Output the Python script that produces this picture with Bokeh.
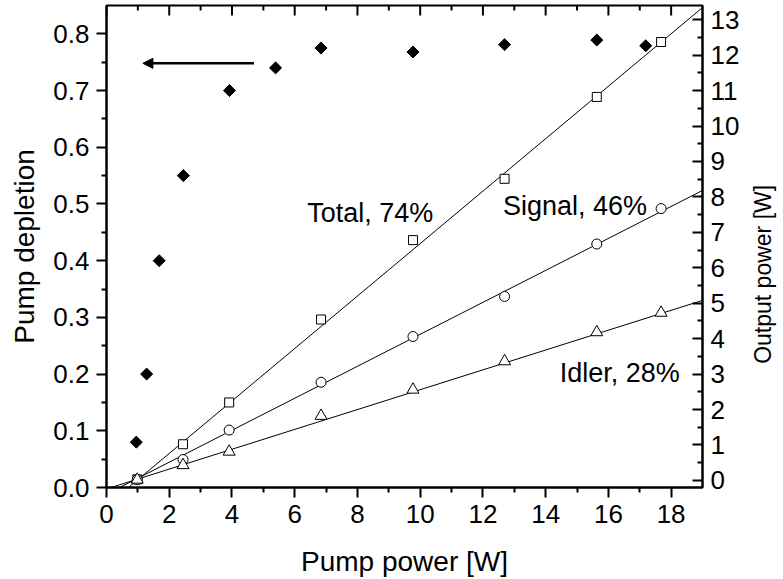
from bokeh.plotting import figure
from bokeh.models import (LinearAxis, Range1d, FixedTicker, PrintfTickFormatter,
                          Arrow, NormalHead, Label)
from bokeh.embed import file_html
from bokeh.resources import INLINE
import numpy as np

# Pump depletion (left axis) against pump power
pump_x = [0.95, 1.28, 1.68, 2.45, 3.92, 5.39, 6.84, 9.77, 12.69, 15.63, 17.19]
depletion = [0.08, 0.20, 0.40, 0.55, 0.70, 0.74, 0.775, 0.768, 0.781, 0.789, 0.779]

# Output powers (right axis) against pump power
power_x = [0.98, 2.44, 3.91, 6.84, 9.77, 12.69, 15.63, 17.68]
total = [0.03, 1.02, 2.20, 4.54, 6.78, 8.51, 10.82, 12.37]
signal = [0.02, 0.59, 1.42, 2.77, 4.06, 5.19, 6.67, 7.67]
idler = [0.02, 0.43, 0.81, 1.82, 2.56, 3.36, 4.18, 4.73]

# Linear fits: slope efficiency [W/W] and threshold [W]
fit_names = ["Total, 74%", "Signal, 46%", "Idler, 28%"]
fit_slope = [0.74, 0.451, 0.28]
fit_threshold = [0.97, 0.86, 0.86]

# Axis ticks
x_major = list(range(0, 19, 2))
x_minor = list(range(1, 19, 2))
left_major = [i / 10 for i in range(9)]
left_minor = [0.05 + i / 10 for i in range(8)]
right_major = list(range(0, 14))
right_minor = [i + 0.5 for i in range(-1, 14)]

X_MAX = 19
LEFT_MAX = 0.85

FONT = "Liberation Sans"
TICK = "26px"
LAB = "28px"
NOTE = "27px"
RIGHT_LAB = "23px"

p = figure(frame_width=596, frame_height=482,
           x_range=Range1d(0, X_MAX), y_range=Range1d(0, LEFT_MAX),
           output_backend="svg", toolbar_location=None,
           min_border_left=106, min_border_right=81,
           min_border_top=5, min_border_bottom=92)
p.extra_y_ranges = {"out": Range1d(-0.2, 13.4)}
p.xgrid.visible = False
p.ygrid.visible = False
p.outline_line_color = "black"
p.outline_line_width = 2
p.background_fill_color = "white"
p.border_fill_color = "white"


def style(ax, tick_in, tick_out):
    ax.axis_line_width = 2
    ax.axis_line_color = "black"
    ax.major_tick_line_width = 2
    ax.minor_tick_line_width = 2
    ax.major_tick_line_color = "black"
    ax.minor_tick_line_color = "black"
    ax.major_tick_in = tick_in
    ax.major_tick_out = tick_out
    ax.minor_tick_in = tick_in // 2
    ax.minor_tick_out = tick_out // 2
    ax.major_label_text_font = FONT
    ax.major_label_text_font_size = TICK
    ax.major_label_text_color = "black"
    ax.axis_label_text_font = FONT
    ax.axis_label_text_font_size = LAB
    ax.axis_label_text_font_style = "normal"
    ax.axis_label_text_color = "black"


# bottom axis
xa = p.xaxis[0]
xa.ticker = FixedTicker(ticks=x_major, minor_ticks=x_minor)
xa.axis_label = "Pump power [W]"
style(xa, 0, 10)
xa.major_label_standoff = 7
xa.axis_label_standoff = 20

# left axis
ya = p.yaxis[0]
ya.ticker = FixedTicker(ticks=left_major, minor_ticks=left_minor)
ya.formatter = PrintfTickFormatter(format="%.1f")
ya.axis_label = "Pump depletion"
style(ya, 0, 10)
ya.major_label_standoff = 7
ya.axis_label_standoff = 10

# right axis (output power), ticks pointing inward
ra = LinearAxis(y_range_name="out",
                ticker=FixedTicker(ticks=right_major, minor_ticks=right_minor))
style(ra, 10, 0)
ra.major_label_standoff = 8
p.add_layout(ra, "right")

# right-hand title, reading upward, carried by a bare axis with one label
TITLE_AT = 3.29
rt = LinearAxis(y_range_name="out", ticker=FixedTicker(ticks=[TITLE_AT], minor_ticks=[]),
                major_label_overrides={TITLE_AT: "Output power [W]"},
                major_label_orientation=np.pi / 2)
rt.axis_line_color = None
rt.major_tick_line_color = None
rt.minor_tick_line_color = None
rt.major_tick_in = 0
rt.major_tick_out = 0
rt.major_label_text_font = FONT
rt.major_label_text_font_size = RIGHT_LAB
rt.major_label_text_color = "black"
rt.major_label_standoff = 21
p.add_layout(rt, "right")

# inward ticks along the top edge
p.ray(x=x_major, y=[LEFT_MAX] * len(x_major), length=10, length_units="screen",
      angle=-np.pi / 2, line_color="black", line_width=2)
p.ray(x=x_minor, y=[LEFT_MAX] * len(x_minor), length=5, length_units="screen",
      angle=-np.pi / 2, line_color="black", line_width=2)

# fit lines
x_end = [0, X_MAX]
for s, t in zip(fit_slope, fit_threshold):
    ys = [s * (xx - t) for xx in x_end]
    p.line(x_end, ys, y_range_name="out", line_color="black", line_width=1)

# measured output powers
p.scatter(power_x, total, y_range_name="out", marker="square", size=9,
          fill_color="white", line_color="black", line_width=1)
p.scatter(power_x, signal, y_range_name="out", marker="circle", size=10,
          fill_color="white", line_color="black", line_width=1)
p.scatter(power_x, idler, y_range_name="out", marker="triangle", size=12,
          fill_color="white", line_color="black", line_width=1)

# pump depletion
p.scatter(pump_x, depletion, marker="square", size=8.5, angle=np.pi / 4,
          fill_color="black", line_color="black")

# arrow pointing to the left axis
p.add_layout(Arrow(x_start=4.70, y_start=0.748, x_end=1.16, y_end=0.748,
                   line_width=2.5, line_color="black",
                   end=NormalHead(size=10, fill_color="black", line_color="black")))

# fit annotations
label_pos = [(6.40, 7.55), (12.64, 7.75), (14.45, 3.04)]
for name, (lx, ly) in zip(fit_names, label_pos):
    p.add_layout(Label(x=lx, y=ly, y_range_name="out", text=name,
                       text_font=FONT, text_font_size=NOTE, text_color="black",
                       text_align="left", text_baseline="alphabetic"))

open("out.html", "w").write(file_html(p, INLINE))
